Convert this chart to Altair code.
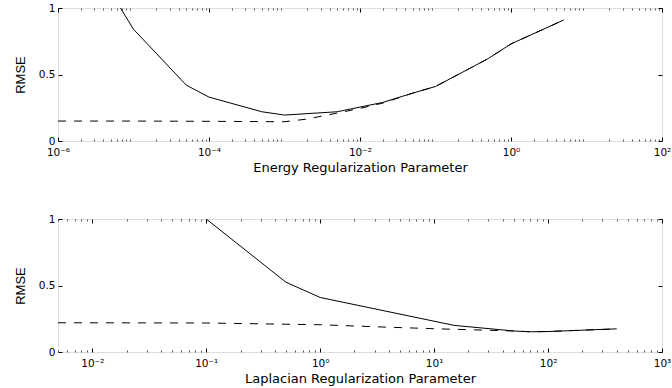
import altair as alt
import pandas as pd
import math

# ---- data ----
energy_x = [5e-6, 1e-5, 5e-5, 1e-4, 5e-4, 1e-3, 5e-3, 1e-2, 2e-2, 5e-2, 1e-1, 2e-1, 5e-1, 1, 5]
energy_solid = [1.12, 0.84, 0.42, 0.33, 0.22, 0.195, 0.22, 0.255, 0.29, 0.36, 0.41, 0.50, 0.62, 0.73, 0.91]
energy_dash_x = [1e-6, 1e-5, 1e-4, 1e-3, 2e-3, 5e-3, 1e-2, 2e-2, 5e-2, 1e-1, 2e-1, 5e-1, 1, 5]
energy_dash = [0.15, 0.15, 0.148, 0.145, 0.165, 0.21, 0.245, 0.285, 0.36, 0.41, 0.50, 0.62, 0.73, 0.91]

lap_x = [0.1, 0.5, 1, 15, 50, 70, 100, 400]
lap_solid = [1.0, 0.525, 0.41, 0.20, 0.158, 0.152, 0.154, 0.174]
lap_dash_x = [0.005, 0.1, 1, 3, 10, 50, 70, 100, 400]
lap_dash = [0.22, 0.218, 0.205, 0.19, 0.175, 0.158, 0.152, 0.154, 0.174]

energy_ticks = [1e-6, 1e-4, 1e-2, 1, 1e2]
energy_tick_labels = ["10⁻⁶", "10⁻⁴", "10⁻²", "10⁰", "10²"]
lap_ticks = [1e-2, 1e-1, 1, 1e1, 1e2, 1e3]
lap_tick_labels = ["10⁻²", "10⁻¹", "10⁰", "10¹", "10²", "10³"]
y_ticks = [0, 0.5, 1]

energy_domain = [1e-6, 1e2]
lap_domain = [0.005, 1000]

FONT = "DejaVu Sans"
YTITLE_FONT = "Liberation Sans Narrow, Liberation Sans"


def minor_ticks(lo_exp, hi_exp, domain):
    out = []
    for e in range(lo_exp, hi_exp):
        for m in range(2, 10):
            v = m * 10.0 ** e
            if domain[0] <= v <= domain[1]:
                out.append(v)
    return out


def label_expr(vals, labels):
    parts = []
    for v, l in zip(vals, labels):
        e = math.log10(v)
        parts.append(f"abs(log(datum.value)/LN10 - ({e})) < 0.01 ? '{l}'")
    return " : ".join(parts) + " : ''"


def panel(xs, ys, dxs, dys, domain, ticks, tick_labels, minor, title):
    solid = pd.DataFrame({"x": xs, "y": ys})
    dash = pd.DataFrame({"x": dxs, "y": dys})
    xsc = alt.Scale(type="log", domain=domain, nice=False)
    ysc = alt.Scale(domain=[0, 1], nice=False, zero=False)
    common = dict(domain=False, grid=False, tickColor="black", tickWidth=1,
                  labelFont=FONT, labelFontSize=10.5, labelColor="black")

    x_bottom = alt.Axis(orient="bottom", values=ticks, labelExpr=label_expr(ticks, tick_labels),
                        tickSize=4, offset=-4, labelPadding=6, title=title,
                        titleFont=FONT, titleFontSize=13, titleFontWeight="normal",
                        titleColor="black", titlePadding=4, labelFlush=False, **common)
    y_left = alt.Axis(orient="left", values=y_ticks, format=".1~f", tickSize=4, offset=-4,
                      labelPadding=3, title="RMSE", titleFont=YTITLE_FONT, titleFontSize=13,
                      titleFontWeight="normal", titleColor="black", titlePadding=11, **common)
    x_top = alt.Axis(orient="top", values=ticks, tickSize=4, offset=-4, labels=False, title=None, **common)
    y_right = alt.Axis(orient="right", values=y_ticks, tickSize=4, offset=-4, labels=False, title=None, **common)
    x_minor_b = alt.Axis(orient="bottom", values=minor, tickSize=2, offset=-2, labels=False, title=None,
                         **{**common, "tickColor": "#555555"})
    x_minor_t = alt.Axis(orient="top", values=minor, tickSize=2, offset=-2, labels=False, title=None,
                         **{**common, "tickColor": "#555555"})

    l1 = alt.Chart(solid).mark_line(color="black", strokeWidth=1, clip=True).encode(
        x=alt.X("x:Q", scale=xsc, axis=x_bottom),
        y=alt.Y("y:Q", scale=ysc, axis=y_left),
    )
    l2 = alt.Chart(dash).mark_line(color="black", strokeWidth=1, strokeDash=[8, 8], clip=True).encode(
        x=alt.X("x:Q", scale=xsc, axis=x_top),
        y=alt.Y("y:Q", scale=ysc, axis=y_right),
    )
    l3 = alt.Chart(dash).mark_line(opacity=0).encode(
        x=alt.X("x:Q", scale=xsc, axis=x_minor_b),
        y=alt.Y("y:Q", scale=ysc, axis=None),
    )
    l4 = alt.Chart(dash).mark_line(opacity=0).encode(
        x=alt.X("x:Q", scale=xsc, axis=x_minor_t),
        y=alt.Y("y:Q", scale=ysc, axis=None),
    )
    return alt.layer(l1, l2, l3, l4).resolve_axis(x="independent", y="independent").properties(
        width=604, height=133)


top = panel(energy_x, energy_solid, energy_dash_x, energy_dash, energy_domain,
            energy_ticks, energy_tick_labels, minor_ticks(-6, 2, energy_domain),
            "Energy Regularization Parameter")
bottom = panel(lap_x, lap_solid, lap_dash_x, lap_dash, lap_domain,
               lap_ticks, lap_tick_labels, minor_ticks(-3, 3, lap_domain),
               "Laplacian Regularization Parameter")

chart = alt.vconcat(top, bottom, spacing=38).properties(
    padding={"left": 13, "top": 2, "right": 0, "bottom": 0}
).configure_view(stroke="black", strokeWidth=1).configure(background="white")

chart.save("out.html", embed_options={"renderer": "svg", "actions": False})
